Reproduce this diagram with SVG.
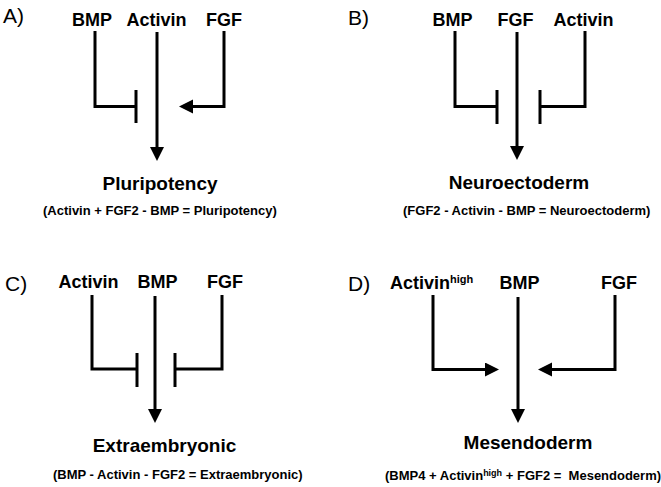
<svg xmlns="http://www.w3.org/2000/svg" width="661" height="487" viewBox="0 0 661 487">
<style>
  .lbl{font-family:"Liberation Sans",Arial,sans-serif;font-weight:bold;font-size:18px;fill:#000}
  .panel{font-family:"Liberation Sans",Arial,sans-serif;font-size:21px;fill:#000}
  .title{font-family:"Liberation Sans",Arial,sans-serif;font-weight:bold;font-size:19px;fill:#000;text-anchor:middle}
  .sub{font-family:"Liberation Sans",Arial,sans-serif;font-weight:bold;font-size:13px;fill:#000;white-space:pre}
  .ln{fill:none;stroke:#000;stroke-width:3;stroke-linejoin:miter}
  .arr{fill:none;stroke:#000;stroke-width:3;marker-end:url(#ah)}
</style>
<defs>
  <marker id="ah" markerUnits="userSpaceOnUse" markerWidth="15" markerHeight="15" refX="1" refY="7" orient="auto">
    <path d="M0,0 L14,7 L0,14 Z" fill="#000"/>
  </marker>
</defs>
<rect width="661" height="487" fill="#fff"/>

<!-- Panel A -->
<g id="panelA">
  <text class="panel" x="3" y="23">A)</text>
  <g id="A-BMP"><text class="lbl" x="92" y="26" text-anchor="middle">BMP</text></g>
  <g id="A-Activin"><text class="lbl" x="156.5" y="26" text-anchor="middle">Activin</text></g>
  <g id="A-FGF"><text class="lbl" x="224" y="26" text-anchor="middle">FGF</text></g>
  <g id="A-Pluripotency">
    <text class="title" x="160" y="190">Pluripotency</text>
    <text class="sub" x="43" y="215">(Activin + FGF2 - BMP = Pluripotency)</text>
  </g>
</g>

<!-- Panel B -->
<g id="panelB">
  <text class="panel" x="348" y="25">B)</text>
  <g id="B-BMP"><text class="lbl" x="452.5" y="26" text-anchor="middle">BMP</text></g>
  <g id="B-FGF"><text class="lbl" x="515.5" y="26" text-anchor="middle">FGF</text></g>
  <g id="B-Activin"><text class="lbl" x="583.5" y="26" text-anchor="middle">Activin</text></g>
  <g id="B-Neuroectoderm">
    <text class="title" x="519" y="189">Neuroectoderm</text>
    <text class="sub" x="403" y="215">(FGF2 - Activin - BMP = Neuroectoderm)</text>
  </g>
</g>

<!-- Panel C -->
<g id="panelC">
  <text class="panel" x="5" y="291">C)</text>
  <g id="C-Activin"><text class="lbl" x="88.5" y="288" text-anchor="middle">Activin</text></g>
  <g id="C-BMP"><text class="lbl" x="157.5" y="288" text-anchor="middle">BMP</text></g>
  <g id="C-FGF"><text class="lbl" x="225" y="288" text-anchor="middle">FGF</text></g>
  <g id="C-Extraembryonic">
    <text class="title" x="164.5" y="452">Extraembryonic</text>
    <text class="sub" x="53" y="479">(BMP - Activin - FGF2 = Extraembryonic)</text>
  </g>
</g>

<!-- Panel D -->
<g id="panelD">
  <text class="panel" x="348" y="291">D)</text>
  <g id="D-Activin"><text class="lbl" x="390" y="289">Activin<tspan font-size="11" dy="-6">high</tspan></text></g>
  <g id="D-BMP"><text class="lbl" x="519.5" y="289" text-anchor="middle">BMP</text></g>
  <g id="D-FGF"><text class="lbl" x="619" y="289" text-anchor="middle">FGF</text></g>
  <g id="D-Mesendoderm">
    <text class="title" x="528" y="449">Mesendoderm</text>
    <text class="sub" x="385" y="480">(BMP4 + Activin<tspan font-size="9" dy="-4">high</tspan><tspan dy="4"> + FGF2 =  Mesendoderm)</tspan></text>
  </g>
</g>

<!-- Connectors -->
<g id="connectors">
  <!-- A -->
  <path class="ln" d="M95,31 V106.5 H136"/>
  <path class="ln" d="M136,90 V123"/>
  <path class="arr" d="M157,32 V148"/>
  <path class="arr" d="M224,31 V106.5 H192"/>
  <!-- B -->
  <path class="ln" d="M455,31 V106.5 H497"/>
  <path class="ln" d="M497,90 V124"/>
  <path class="arr" d="M517,32 V147"/>
  <path class="ln" d="M585,31 V106.5 H540"/>
  <path class="ln" d="M540,90 V124"/>
  <!-- C -->
  <path class="ln" d="M92,295 V369 H137"/>
  <path class="ln" d="M137,353 V387"/>
  <path class="arr" d="M155,296 V410"/>
  <path class="ln" d="M222,295 V369 H175"/>
  <path class="ln" d="M175,353 V387"/>
  <!-- D -->
  <path class="arr" d="M433,295 V369.5 H486"/>
  <path class="arr" d="M518,297 V410"/>
  <path class="arr" d="M615,295 V369.5 H551"/>
</g>
</svg>
